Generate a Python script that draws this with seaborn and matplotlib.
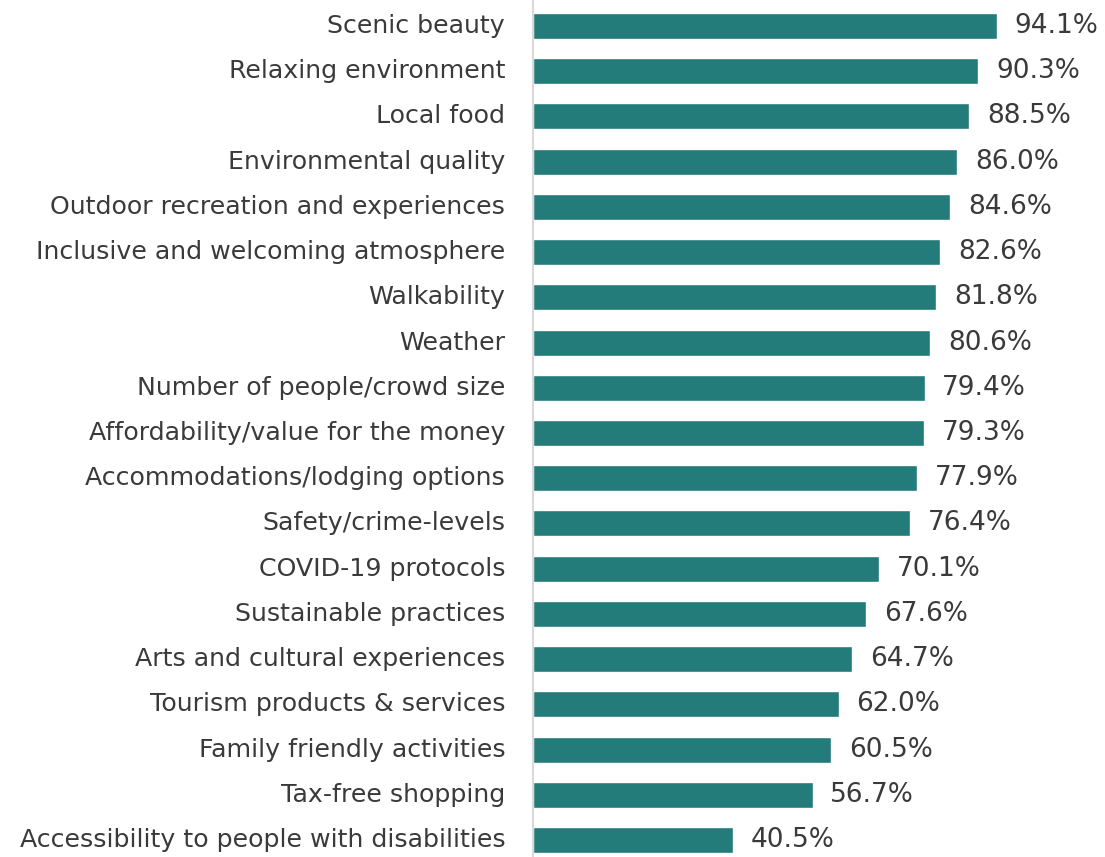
import matplotlib
matplotlib.use("Agg")
import matplotlib.pyplot as plt
import seaborn as sns
import pandas as pd

categories = [
    "Scenic beauty", "Relaxing environment", "Local food", "Environmental quality",
    "Outdoor recreation and experiences", "Inclusive and welcoming atmosphere",
    "Walkability", "Weather", "Number of people/crowd size",
    "Affordability/value for the money", "Accommodations/lodging options",
    "Safety/crime-levels", "COVID-19 protocols", "Sustainable practices",
    "Arts and cultural experiences", "Tourism products & services",
    "Family friendly activities", "Tax-free shopping",
    "Accessibility to people with disabilities",
]
values = [94.1, 90.3, 88.5, 86.0, 84.6, 82.6, 81.8, 80.6, 79.4, 79.3,
          77.9, 76.4, 70.1, 67.6, 64.7, 62.0, 60.5, 56.7, 40.5]

df = pd.DataFrame({"category": categories, "value": values})

sns.set_theme(style="white")
plt.rcParams["font.family"] = ["DejaVu Sans"]

BAR = "#237B7A"
TXT = "#3A3A3A"

fig = plt.figure(figsize=(11.05, 8.57), dpi=100)
ax = fig.add_axes([533 / 1105, 0.0, 572 / 1105, 1.0])
sns.barplot(data=df, x="value", y="category", orient="h", color=BAR,
            saturation=1, width=0.575, ax=ax)

ax.set_xlim(0, 116.0)
ax.set_ylim(18.376, -0.575)
ax.set_xlabel("")
ax.set_ylabel("")
ax.set_xticks([])
for s in ["top", "right", "bottom"]:
    ax.spines[s].set_visible(False)
ax.spines["left"].set_color("#D9D9D9")
ax.spines["left"].set_linewidth(1.5)
ax.tick_params(axis="y", length=0, pad=20, labelsize=18.2, labelcolor=TXT)
for lbl in ax.get_yticklabels():
    lbl.set_verticalalignment("center")

for i, v in enumerate(values):
    ax.text(v + 3.6, i, f"{v:.1f}%", va="center", ha="left",
            fontsize=19, color=TXT)

fig.savefig("out.png", dpi=100)
